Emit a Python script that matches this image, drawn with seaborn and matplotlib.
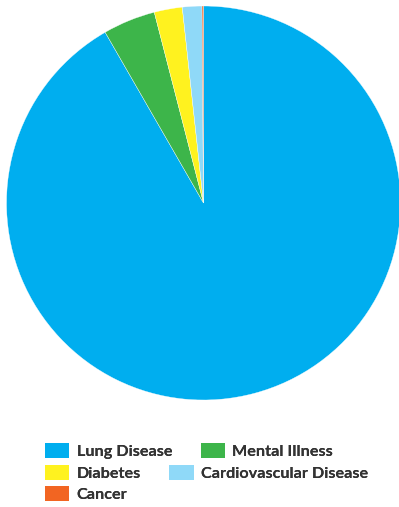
import matplotlib
matplotlib.use("Agg")
import matplotlib.pyplot as plt
import seaborn as sns
from matplotlib.patches import Patch

categories = ["Lung Disease", "Mental Illness", "Diabetes", "Cardiovascular Disease", "Cancer"]
values = [91.7, 4.3, 2.3, 1.6, 0.12]
colors = ["#00AEEF", "#3DB54A", "#FFF21F", "#8FD9F8", "#F26522"]

sns.set_theme(style="white")
plt.rcParams['font.family'] = ['Lato', 'DejaVu Sans']

W, H = 399, 507
fig = plt.figure(figsize=(W / 100, H / 100), dpi=100)
cx, cy, r = 203.5, 203, 197
ax = fig.add_axes([(cx - r) / W, (H - (cy + r)) / H, 2 * r / W, 2 * r / H])
ax.pie(values, colors=colors, startangle=90, counterclock=False,
       wedgeprops=dict(edgecolor="white", linewidth=0.25))
ax.set_xlim(-1, 1)
ax.set_ylim(-1, 1)
ax.set_aspect("equal")
ax.axis("off")

handles = {c: Patch(facecolor=col, edgecolor="none") for c, col in zip(categories, colors)}
rows = [["Lung Disease", "Mental Illness"], ["Diabetes", "Cardiovascular Disease"], ["Cancer"]]
row_y = [451, 473, 494]
fs = 11.7
for names, yy in zip(rows, row_y):
    leg = fig.legend([handles[n] for n in names], names, loc="center left",
                     bbox_to_anchor=(45 / W, 1 - yy / H), ncol=len(names),
                     frameon=False, borderpad=0, borderaxespad=0,
                     handlelength=1.5, handleheight=1.05, handletextpad=0.45,
                     columnspacing=1.75, labelcolor="#333333",
                     prop=dict(family=['Lato', 'DejaVu Sans'], weight='bold', size=fs))
    fig.add_artist(leg)

fig.savefig("out.png", dpi=100)
